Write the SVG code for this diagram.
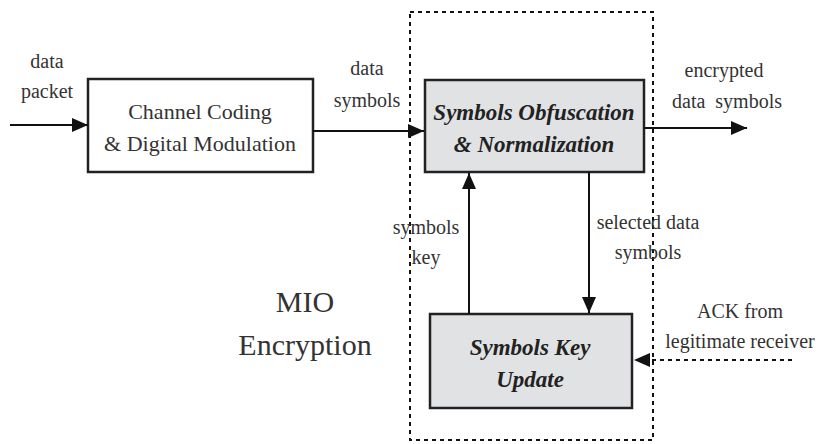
<svg xmlns="http://www.w3.org/2000/svg" width="823" height="444" viewBox="0 0 823 444" font-family="'Liberation Serif', 'Times New Roman', 'DejaVu Serif', serif">
<style>
text{font-family:'Liberation Serif','Times New Roman','DejaVu Serif',serif;fill:#333;text-anchor:middle}
.lbl{font-size:20px}
.box{stroke:#222;stroke-width:2.5}
.bt{font-size:22px}
.bi{font-size:23px;font-weight:bold;font-style:italic;fill:#222}
.ln{stroke:#111;stroke-width:2;fill:none}
.dash{stroke:#111;stroke-width:2;fill:none;stroke-dasharray:4 4}
</style>
<defs>
<marker id="ah" viewBox="0 0 16 14" refX="16" refY="7" markerWidth="16" markerHeight="14" markerUnits="userSpaceOnUse" orient="auto">
<path d="M0,0 L16,7 L0,14 Z" fill="#111"/>
</marker>
</defs>
<rect width="823" height="444" fill="#fff"/>
<g id="region">
<rect x="410" y="12" width="243" height="428" class="dash"/>
<text x="305" y="312" style="font-size:30px">MIO</text>
<text x="305" y="355" style="font-size:30px">Encryption</text>
</g>
<g id="channel-coding">
<rect x="88" y="79" width="225" height="93" fill="#fff" class="box"/>
<text x="200" y="119" class="bt">Channel Coding</text>
<text x="200" y="151" class="bt">&amp; Digital Modulation</text>
</g>
<g id="obfuscation">
<rect x="425" y="80" width="219" height="92" fill="#e1e2e4" class="box"/>
<text x="534" y="120" class="bi">Symbols Obfuscation</text>
<text x="534" y="152" class="bi">&amp; Normalization</text>
</g>
<g id="key-update">
<rect x="430" y="314" width="202" height="94" fill="#e1e2e4" class="box"/>
<text x="530" y="355" class="bi">Symbols Key</text>
<text x="530" y="387" class="bi">Update</text>
</g>
<g id="connectors">
<line x1="10" y1="125" x2="88" y2="125" class="ln" marker-end="url(#ah)"/>
<line x1="313" y1="131" x2="424" y2="131" class="ln" marker-end="url(#ah)"/>
<line x1="644" y1="128" x2="747" y2="128" class="ln" marker-end="url(#ah)"/>
<line x1="469" y1="314" x2="469" y2="173" class="ln" marker-end="url(#ah)"/>
<line x1="589" y1="172" x2="589" y2="313" class="ln" marker-end="url(#ah)"/>
<line x1="792" y1="360" x2="634" y2="360" class="dash" marker-end="url(#ah)"/>
<text x="47" y="68" class="lbl">data</text>
<text x="47" y="98" class="lbl">packet</text>
<text x="367" y="75" class="lbl">data</text>
<text x="367" y="107" class="lbl">symbols</text>
<text x="724" y="77" class="lbl">encrypted</text>
<text x="727" y="108" class="lbl" xml:space="preserve">data  symbols</text>
<text x="426" y="234" class="lbl">symbols</text>
<text x="426" y="264" class="lbl">key</text>
<text x="648" y="229" class="lbl">selected data</text>
<text x="648" y="259" class="lbl">symbols</text>
<text x="740" y="318" class="lbl">ACK from</text>
<text x="740" y="348" class="lbl">legitimate receiver</text>
</g>
</svg>
